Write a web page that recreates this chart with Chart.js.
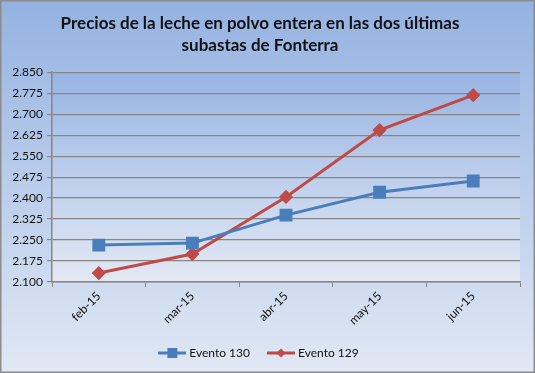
<!DOCTYPE html>
<html>
<head>
<meta charset="utf-8">
<script src="https://cdn.jsdelivr.net/npm/chart.js@4"></script>
<style>
html,body{margin:0;padding:0;background:#fff;}
#wrap{width:535px;height:373px;position:relative;}
</style>
</head>
<body>
<div id="wrap"><canvas id="c" width="535" height="373"></canvas></div>
<script>
const categories = ['feb-15','mar-15','abr-15','may-15','jun-15'];
const evento130 = [2232, 2239, 2339, 2421, 2461];
const evento129 = [2132, 2200, 2404, 2643, 2768];
const yMin = 2100, yMax = 2850, yStep = 75;
const title = ['Precios de la leche en polvo entera en las dos últimas','subastas de Fonterra'];

function fmt(v){ v = Math.round(v); return Math.floor(v/1000) + '.' + String(v%1000).padStart(3,'0'); }

function legendIcon(color, style){
  const c = document.createElement('canvas');
  c.width = 28; c.height = 12;
  const g = c.getContext('2d');
  g.strokeStyle = color; g.lineWidth = 3;
  g.beginPath(); g.moveTo(0,6); g.lineTo(28,6); g.stroke();
  g.fillStyle = color;
  if (style === 'rect'){ g.fillRect(9,1,10,10); }
  else { g.beginPath(); g.moveTo(14,1.5); g.lineTo(18.5,6); g.lineTo(14,10.5); g.lineTo(9.5,6); g.closePath(); g.fill(); }
  return c;
}

const bgPlugin = {
  id:'bg',
  beforeDraw(chart){
    const ctx = chart.ctx, W = chart.width, H = chart.height, a = chart.chartArea;
    ctx.save();
    let g = ctx.createLinearGradient(0,0,0,H);
    g.addColorStop(0,'#94b2e1'); g.addColorStop(1,'#e1e8f4');
    ctx.fillStyle = g; ctx.fillRect(0,0,W,H);
    g = ctx.createLinearGradient(0,a.top,0,a.bottom);
    g.addColorStop(0,'#98b4e3'); g.addColorStop(1,'#e3e9f4');
    ctx.fillStyle = g; ctx.fillRect(a.left,a.top,a.right-a.left,a.bottom-a.top);
    ctx.strokeStyle = '#8c8c8c'; ctx.lineWidth = 1.5;
    ctx.strokeRect(0.75,0.75,W-1.5,H-1.5);
    ctx.restore();
  }
};

new Chart(document.getElementById('c'), {
  type:'line',
  data:{
    labels: categories,
    datasets:[
      {label:'Evento 130', data:evento130, borderColor:'#4a7ebb', backgroundColor:'#4a7ebb', borderWidth:3,
       pointStyle:'rect', pointRadius:7, pointHoverRadius:7, tension:0},
      {label:'Evento 129', data:evento129, borderColor:'#be4b48', backgroundColor:'#be4b48', borderWidth:3,
       pointStyle:'rectRot', pointRadius:5, pointHoverRadius:5, tension:0}
    ]
  },
  options:{
    responsive:false, animation:false,
    layout:{padding:{left:0,right:15,top:0,bottom:4}},
    plugins:{
      title:{display:true, text:title, color:'#111', font:{family:'Lato', size:17, weight:'bold', lineHeight:1.3}, padding:{top:12,bottom:16}},
      legend:{position:'bottom', labels:{usePointStyle:true, pointStyleWidth:22, boxHeight:12, color:'#111', font:{family:'Lato', size:12}, padding:20,
        generateLabels(chart){
          return chart.data.datasets.map((d,i)=>({text:d.label, pointStyle:legendIcon(d.borderColor, d.pointStyle), fillStyle:d.borderColor, strokeStyle:d.borderColor, lineWidth:0, datasetIndex:i, fontColor:'#111'}));
        }}},
      tooltip:{enabled:false}
    },
    scales:{
      x:{offset:true, grid:{display:true, drawOnChartArea:false, offset:true, color:'#868686', tickLength:5, tickColor:'#868686'},
         border:{color:'#868686', width:1.5},
         ticks:{color:'#111', font:{family:'Lato', size:12}, minRotation:45, maxRotation:45, padding:2},
         afterFit(s){ s.height = 45; }},
      y:{min:yMin, max:yMax, ticks:{stepSize:yStep, color:'#111', font:{family:'Lato', size:12}, callback:v=>fmt(v), padding:4},
         grid:{color:'#868686', lineWidth:1.2, tickLength:5, tickColor:'#868686'},
         border:{color:'#868686', width:1.5},
         afterFit(s){ s.width = 52; }}
    }
  },
  plugins:[bgPlugin]
});
</script>
</body>
</html>
